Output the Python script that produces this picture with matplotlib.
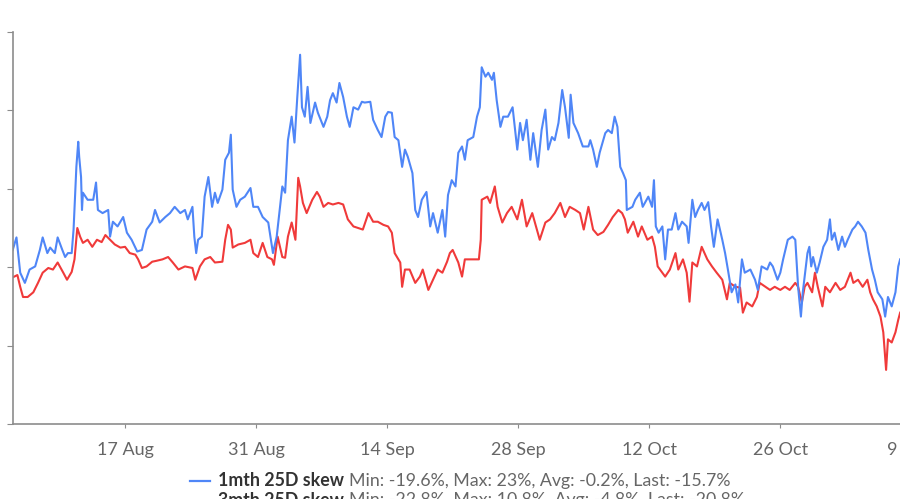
import matplotlib
matplotlib.use("Agg")
import matplotlib.pyplot as plt
from matplotlib.lines import Line2D
import pandas as pd

plt.rcParams['font.family'] = ['Lato', 'DejaVu Sans']

start = pd.Timestamp('2020-08-01')

# days after 1 Aug 2020 and skew in %
blue_days = [4.0, 4.4, 4.8, 5.3, 5.8, 6.4, 6.9, 7.2, 7.7, 8.0, 8.5, 8.8, 9.3, 9.6, 9.9, 10.3, 10.5, 10.8, 11.0, 11.1,
             11.3, 11.4, 11.5, 12.0, 12.6, 12.9, 13.1, 13.6, 14.2, 14.4, 14.7, 15.2, 15.8, 16.2, 16.7, 17.3, 17.8, 18.3, 18.9, 19.2,
             19.7, 20.3, 20.8, 21.3, 21.9, 22.4, 22.7, 23.2, 23.4, 23.6, 23.8, 24.2, 24.5, 24.9, 25.3, 25.6, 25.9, 26.4, 26.7, 27.1,
             27.3, 27.5, 27.9, 28.3, 28.8, 29.4, 29.7, 30.2, 30.7, 31.3, 31.8, 32.2, 32.8, 33.1, 33.4, 33.8, 34.1, 34.4, 34.7, 34.9,
             35.2, 35.5, 35.8, 36.3, 36.6, 37.2, 37.6, 37.9, 38.2, 38.6, 38.9, 39.3, 39.7, 40.0, 40.4, 40.9, 41.3, 41.6, 42.2, 42.5,
             43.0, 43.4, 43.8, 44.1, 44.5, 44.8, 45.2, 45.6, 45.9, 46.2, 46.7, 47.0, 47.3, 47.7, 48.2, 48.6, 48.9, 49.4, 49.9, 50.2,
             50.5, 50.9, 51.3, 51.6, 52.0, 52.3, 52.6, 53.2, 53.6, 53.9, 54.1, 54.5, 54.8, 55.2, 55.4, 55.7, 56.1, 56.4, 56.9, 57.4,
             57.9, 58.2, 58.5, 58.9, 59.3, 59.6, 60.1, 60.5, 60.9, 61.2, 61.6, 61.9, 62.3, 62.7, 63.0, 63.4, 63.6, 63.9, 64.4, 64.9,
             65.5, 65.7, 66.0, 66.4, 66.7, 67.3, 67.6, 68.0, 68.3, 68.6, 68.9, 69.2, 69.5, 69.6, 70.2, 70.5, 71.0, 71.3, 71.9, 72.3,
             72.5, 72.7, 73.0, 73.4, 73.7, 74.0, 74.4, 74.8, 75.1, 75.5, 76.0, 76.2, 76.6, 76.9, 77.2, 77.6, 77.9, 78.3, 78.6, 78.9,
             79.3, 79.8, 80.1, 80.4, 80.8, 81.2, 81.5, 81.9, 82.2, 82.8, 83.3, 83.6, 84.0, 84.6, 84.9, 85.2, 85.7, 86.0, 86.3, 86.8,
             87.3, 87.6, 87.9, 88.2, 88.4, 88.9, 89.1, 89.3, 89.5, 89.9, 90.2, 90.6, 91.0, 91.3, 91.5, 91.8, 92.2, 92.6, 92.9, 93.2,
             93.7, 94.0, 94.3, 94.7, 95.1, 95.4, 95.8, 96.1, 96.4, 96.9, 97.2, 97.5, 97.9, 98.3, 98.6, 98.8]
blue_skew = [-7.8, -6.2, -10.7, -12.0, -10.3, -9.9, -7.8, -6.2, -8.2, -7.5, -8.2, -6.2, -7.8, -8.7, -8.2, -8.2, -5.2, 2.8, 6.0, 4.1,
             1.5, -2.7, -0.5, -1.4, -1.4, 0.8, -2.7, -3.1, -2.7, -6.1, -4.2, -4.8, -3.6, -5.6, -6.5, -8.0, -7.8, -5.2, -4.2, -2.7,
             -4.3, -3.6, -3.1, -2.3, -3.1, -2.7, -3.9, -2.3, -6.1, -8.2, -6.5, -6.1, -1.0, 1.5, -2.3, -0.5, -1.8, -0.1, 3.7, 4.6,
             6.9, -0.1, -2.3, -1.4, -1.0, 0.1, -2.3, -2.3, -3.6, -4.3, -8.2, -6.1, 0.3, -0.5, 6.2, 9.2, 5.9, 11.7, 17.1, 10.4,
             9.2, 13.0, 8.4, 11.0, 9.7, 7.9, 9.2, 11.3, 12.2, 11.0, 13.5, 11.7, 9.2, 7.9, 10.4, 10.1, 11.1, 11.0, 11.1, 8.8,
             7.5, 6.6, 9.2, 9.8, 9.7, 6.6, 6.2, 2.8, 5.0, 4.1, 2.0, -2.7, -3.6, -1.4, -0.4, -4.8, -3.1, -5.6, -2.7, -6.1,
             -0.8, 1.1, 0.3, 4.6, 5.4, 3.7, 6.2, 6.6, 9.2, 10.4, 15.5, 14.3, 14.8, 13.9, 14.8, 11.3, 7.9, 9.2, 9.2, 10.4,
             5.0, 8.4, 6.2, 8.8, 3.7, 7.1, 2.8, 7.5, 10.1, 5.0, 6.6, 6.2, 8.4, 12.6, 10.4, 6.5, 12.0, 8.4, 7.1, 5.4,
             5.4, 6.2, 5.0, 2.8, 4.6, 7.1, 7.5, 7.1, 9.2, 7.9, 2.8, 2.0, 1.1, -2.7, -2.3, -1.4, -0.5, -2.3, -1.0, -2.3,
             1.1, -4.8, -5.6, -4.8, -9.0, -5.2, -5.2, -3.1, -5.2, -4.2, -4.8, -6.9, -1.4, -3.6, -2.7, -1.8, -2.7, -1.7, -4.8, -7.4,
             -3.9, -6.5, -8.2, -10.3, -13.2, -12.2, -14.5, -9.0, -10.7, -10.3, -11.6, -12.9, -9.9, -10.3, -9.4, -9.9, -11.6, -10.7, -9.0, -6.5,
             -6.1, -6.5, -12.5, -16.3, -13.2, -8.2, -7.4, -9.9, -8.7, -10.7, -9.4, -7.4, -6.5, -3.9, -6.5, -5.6, -7.8, -6.1, -7.4, -6.5,
             -5.2, -4.8, -4.2, -4.8, -5.6, -7.8, -10.3, -11.6, -13.2, -14.1, -16.3, -13.8, -15.0, -13.2, -9.9, -9.0]

red_days = [4.0, 4.5, 4.8, 5.1, 5.6, 6.2, 6.7, 7.2, 7.8, 8.3, 8.8, 9.4, 9.8, 10.3, 10.6, 10.9, 11.2, 11.5, 12.0, 12.5,
            13.0, 13.5, 13.9, 14.4, 14.9, 15.5, 16.0, 16.5, 17.1, 17.4, 17.8, 18.3, 18.9, 19.3, 20.0, 20.6, 21.1, 21.7, 22.4, 23.2,
            23.5, 24.0, 24.5, 25.1, 25.6, 26.4, 26.7, 27.0, 27.3, 27.5, 28.1, 28.8, 29.4, 29.7, 30.2, 30.7, 31.2, 31.7, 31.9, 32.3,
            32.8, 33.1, 33.4, 33.8, 34.2, 34.5, 34.7, 35.0, 35.4, 36.0, 36.5, 36.8, 37.2, 37.7, 38.2, 38.8, 39.3, 39.8, 40.4, 40.9,
            41.4, 42.0, 42.5, 43.0, 43.6, 44.1, 44.5, 44.8, 45.4, 45.6, 45.9, 46.4, 47.0, 47.5, 47.8, 48.4, 48.9, 49.4, 49.9, 50.4,
            50.7, 51.0, 51.6, 52.0, 52.3, 52.9, 53.4, 53.8, 54.0, 54.1, 54.7, 55.0, 55.5, 55.8, 56.3, 56.8, 57.3, 57.9, 58.4, 58.9,
            59.5, 60.0, 60.3, 60.9, 61.4, 61.9, 62.5, 63.0, 63.5, 64.1, 64.6, 65.0, 65.5, 66.0, 66.5, 67.1, 67.6, 68.1, 68.7, 69.1,
            69.4, 69.7, 70.3, 70.8, 71.2, 71.8, 72.3, 72.6, 72.9, 73.4, 73.7, 74.2, 74.8, 75.1, 75.6, 76.0, 76.3, 76.6, 77.1, 77.6,
            78.2, 78.7, 79.2, 79.8, 80.3, 80.6, 81.2, 81.7, 82.0, 82.4, 83.0, 83.5, 83.8, 84.4, 84.9, 85.4, 86.0, 86.5, 87.0, 87.6,
            87.9, 88.3, 88.6, 88.9, 89.4, 89.7, 90.0, 90.5, 90.8, 91.3, 91.9, 92.4, 92.9, 93.5, 93.8, 94.3, 94.8, 95.3, 95.6, 95.9,
            96.3, 96.7, 97.0, 97.3, 97.5, 97.9, 98.3, 98.6, 98.8]
red_skew = [-11.3, -11.0, -12.5, -13.8, -13.8, -13.2, -12.0, -10.7, -10.1, -10.3, -9.4, -10.7, -11.6, -10.6, -9.0, -5.0, -6.1, -6.9, -6.5, -7.4,
            -6.5, -6.8, -5.9, -6.5, -7.1, -7.5, -7.4, -8.2, -8.4, -9.0, -10.1, -9.9, -9.3, -9.2, -9.0, -8.7, -9.4, -10.3, -9.9, -10.1,
            -11.6, -9.9, -9.0, -8.7, -9.4, -9.3, -6.5, -4.6, -5.2, -7.5, -7.1, -6.9, -6.5, -8.2, -8.7, -6.9, -8.7, -9.0, -9.7, -6.1,
            -8.7, -8.8, -6.1, -4.3, -6.5, 1.4, 0.3, -1.8, -3.1, -1.4, -0.4, -1.0, -2.3, -1.8, -2.0, -1.8, -2.0, -3.9, -4.8, -5.0,
            -5.2, -3.1, -4.2, -4.2, -4.6, -4.8, -5.6, -8.2, -9.4, -12.5, -10.3, -10.3, -12.0, -11.2, -10.3, -12.9, -11.6, -10.3, -10.7, -9.3,
            -8.2, -7.8, -9.4, -11.2, -9.0, -9.0, -9.0, -9.0, -6.5, -1.4, -1.0, -1.8, 0.3, -2.3, -4.3, -3.1, -2.3, -3.9, -1.4, -4.8,
            -3.1, -5.2, -6.5, -4.3, -3.9, -3.1, -1.8, -3.6, -2.3, -2.7, -3.1, -5.2, -2.3, -5.2, -5.9, -5.5, -4.6, -3.6, -2.7, -3.1,
            -3.9, -5.6, -4.2, -6.1, -4.8, -6.5, -6.1, -7.4, -9.9, -10.7, -11.2, -10.3, -8.2, -10.3, -9.0, -10.7, -14.4, -9.4, -9.9, -7.4,
            -9.0, -9.9, -10.7, -11.6, -14.1, -12.0, -12.5, -12.6, -15.8, -14.5, -15.0, -13.8, -12.0, -12.5, -12.9, -12.5, -12.9, -12.5, -12.9, -12.0,
            -12.5, -14.5, -12.5, -12.0, -13.2, -10.7, -12.5, -15.0, -12.5, -13.2, -12.0, -12.9, -12.5, -10.7, -12.0, -11.6, -12.5, -11.6, -13.2, -14.1,
            -15.0, -16.3, -18.3, -23.1, -19.2, -19.6, -18.3, -16.7, -15.8]

tick_dates = ['2020-08-17', '2020-08-31', '2020-09-14', '2020-09-28', '2020-10-12', '2020-10-26', '2020-11-09']
y_ticks = [-30, -20, -10, 0, 10, 20]

series_names = ['1mth 25D skew', '3mth 25D skew']
series_stats = ['Min: -19.6%, Max: 23%, Avg: -0.2%, Last: -15.7%',
                'Min: -22.8%, Max: 10.8%, Avg: -4.8%, Last: -20.8%']
colors = ['#4f86f7', '#f03a3a']

blue_x = start + pd.to_timedelta(blue_days, unit='D')
red_x = start + pd.to_timedelta(red_days, unit='D')

fig = plt.figure(figsize=(9, 4.99), dpi=100)
W, H = 900, 499
ax = fig.add_axes([13 / W, 75 / H, 977 / W, 392 / H])

ax.plot(red_x, red_skew, color=colors[1], lw=1.5)
ax.plot(blue_x, blue_skew, color=colors[0], lw=1.5)

ax.set_xlim(start + pd.Timedelta(days=4.03), start + pd.Timedelta(days=108.4))
ax.set_ylim(-30, 20)

ticks = pd.to_datetime(tick_dates)
ax.set_xticks(ticks)
ax.set_xticklabels([f"{d.day} {d:%b}" for d in ticks])
ax.set_yticks(y_ticks)
ax.set_yticklabels([f"{v}%" for v in y_ticks])

for s in ['top', 'right']:
    ax.spines[s].set_visible(False)
for s in ['left', 'bottom']:
    ax.spines[s].set_color('#8c8c8c')
    ax.spines[s].set_linewidth(1.2)
ax.tick_params(axis='x', length=3, color='#8c8c8c', pad=10, labelsize=13, labelcolor='#666666')
ax.tick_params(axis='y', length=4, color='#8c8c8c', pad=5, labelsize=13, labelcolor='#666666')

# legend drawn by hand (bold name + grey stats)
renderer = fig.canvas.get_renderer()
for i, (name, stats) in enumerate(zip(series_names, series_stats)):
    yc = 1 - (481 + 19.5 * i) / H
    fig.add_artist(Line2D([190 / W, 210 / W], [yc, yc], color=colors[i], lw=1.6))
    t1 = fig.text(218 / W, yc, name, fontsize=12.8, fontweight='bold', color='#333333', va='center', ha='left')
    bb = t1.get_window_extent(renderer=renderer)
    fig.text((bb.x1 + 5) / W, yc, stats, fontsize=12.8, color='#666666', va='center', ha='left')

fig.savefig('out.png', dpi=100)
